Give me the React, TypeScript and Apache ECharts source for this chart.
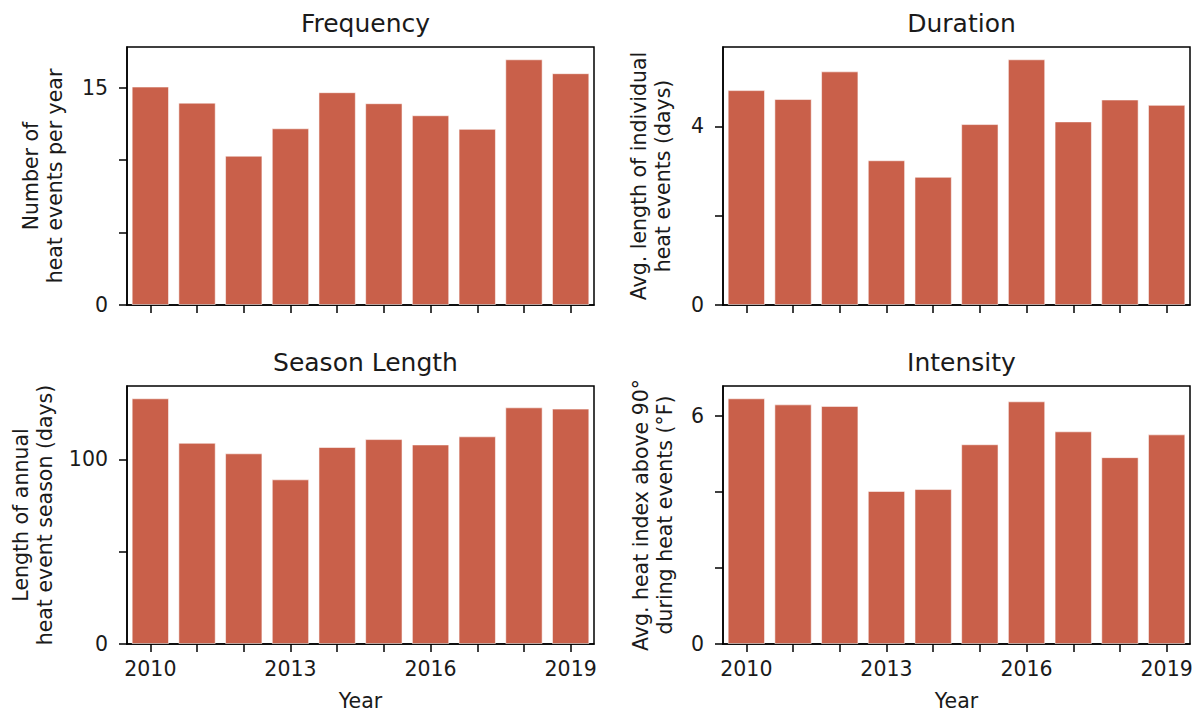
import React, { useEffect, useRef } from "react";
import * as echarts from "echarts";

const years = ["2010", "2011", "2012", "2013", "2014", "2015", "2016", "2017", "2018", "2019"];

const frequency = [15.07, 13.96, 10.3, 12.19, 14.68, 13.92, 13.09, 12.15, 16.95, 15.99];
const duration = [4.81, 4.61, 5.23, 3.24, 2.87, 4.05, 5.5, 4.11, 4.6, 4.48];
const seasonLength = [133.1, 109.0, 103.3, 89.2, 106.7, 111.0, 108.1, 112.5, 128.2, 127.5];
const intensity = [6.47, 6.31, 6.27, 4.03, 4.08, 5.26, 6.39, 5.6, 4.92, 5.52];

const titles = ["Frequency", "Duration", "Season Length", "Intensity"];
const yNames = [
  "Number of\nheat events per year",
  "Avg. length of individual\nheat events (days)",
  "Length of annual\nheat event season (days)",
  "Avg. heat index above 90°\nduring heat events (°F)",
];
const yTicks = [
  [0, 5, 10, 15],
  [0, 2, 4],
  [0, 50, 100],
  [0, 2, 4, 6],
];
const yLabels = [
  [0, 15],
  [0, 4],
  [0, 100],
  [0, 6],
];
const xLabel = "Year";

const BAR = "#c9604a";
const INK = "#1a1a1a";
const FONT = "DejaVu Sans";

export default function App() {
  const ref = useRef<HTMLDivElement>(null);
  useEffect(() => {
    if (!ref.current) return;
    const chart = echarts.init(ref.current, undefined, { renderer: "svg" });
    const series = [frequency, duration, seasonLength, intensity];
    const grids = [
      { left: 127, top: 47, width: 467, height: 258 },
      { left: 723, top: 47, width: 467, height: 258 },
      { left: 127, top: 386, width: 467, height: 258 },
      { left: 723, top: 386, width: 467, height: 258 },
    ];
    const nameGaps = [60, 48, 70, 46];
    const option: any = {
      animation: false,
      backgroundColor: "#ffffff",
      textStyle: { fontFamily: FONT },
      title: grids.map((g, i) => ({
        text: titles[i],
        left: g.left + g.width / 2,
        top: g.top - 41,
        textAlign: "center",
        textStyle: { fontFamily: FONT, fontSize: 25, fontWeight: "normal", color: INK },
      })),
      grid: grids.map((g) => ({
        ...g,
        show: true,
        borderColor: "#000",
        borderWidth: 1.5,
        backgroundColor: "transparent",
        containLabel: false,
      })),
      xAxis: grids.map((g, i) => ({
        type: "category",
        gridIndex: i,
        data: years,
        boundaryGap: true,
        axisLine: { show: true, lineStyle: { color: "#000", width: 1.5 } },
        axisTick: { show: true, alignWithLabel: true, interval: 0, length: 8, lineStyle: { color: "#000", width: 1.5 } },
        axisLabel: {
          show: i >= 2,
          interval: 2,
          margin: 14,
          fontSize: 20.5,
          fontFamily: FONT,
          color: INK,
        },
        name: i >= 2 ? xLabel : "",
        nameLocation: "middle",
        nameGap: 46,
        nameTextStyle: { fontSize: 20.5, fontFamily: FONT, color: INK },
        splitLine: { show: false },
      })),
      yAxis: grids.map((g, i) => ({
        type: "value",
        gridIndex: i,
        min: 0,
        max: Math.max(...series[i]) * 1.05,
        axisLine: { show: true, lineStyle: { color: "#000", width: 1.5 } },
        axisTick: {
          show: true,
          length: 8,
          customValues: yTicks[i],
          lineStyle: { color: "#000", width: 1.5 },
        },
        axisLabel: {
          show: true,
          customValues: yLabels[i],
          margin: 19,
          fontSize: 20.5,
          fontFamily: FONT,
          color: INK,
        },
        splitLine: { show: false },
        name: yNames[i],
        nameLocation: "middle",
        nameGap: nameGaps[i],
        nameTextStyle: { fontSize: 20.5, fontFamily: FONT, color: INK, lineHeight: 24, align: "center" },
      })),
      series: series.map((d, i) => ({
        type: "bar",
        xAxisIndex: i,
        yAxisIndex: i,
        data: d,
        barCategoryGap: "20%",
        itemStyle: { color: BAR, borderColor: "rgba(255,255,255,0.55)", borderWidth: 1 },
      })),
    };
    chart.setOption(option);
    return () => chart.dispose();
  }, []);
  return (
    <div
      ref={ref}
      style={{ position: "fixed", left: 0, top: 0, width: 1199, height: 714, background: "#fff" }}
    />
  );
}
